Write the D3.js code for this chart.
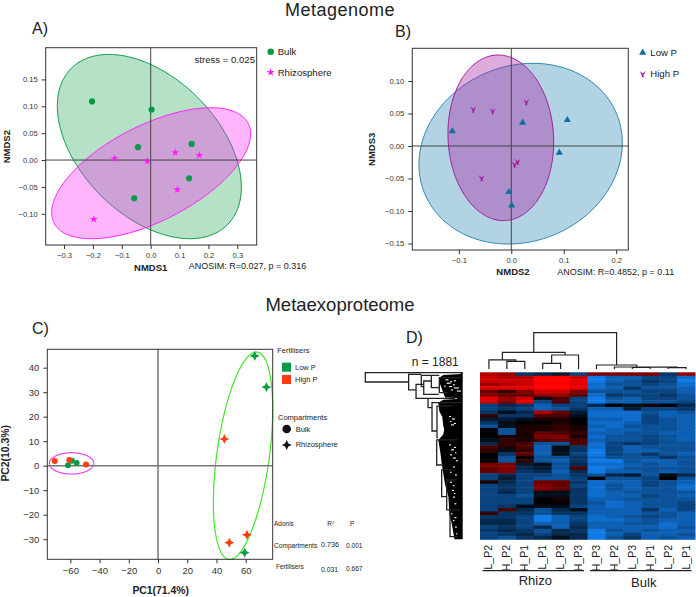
<!DOCTYPE html>
<html>
<head>
<meta charset="utf-8">
<script src="https://cdn.jsdelivr.net/npm/d3@7"></script>
<style>
  html, body { margin: 0; background: #fff; }
  svg { display: block; }
  text { font-family: "Liberation Sans", Arial, sans-serif; fill: #222; }
</style>
</head>
<body>
<svg id="fig" width="696" height="597"></svg>
<script>
// panel A - NMDS1 / NMDS2
const bulkA = [[-0.203, 0.109], [0.003, 0.094], [-0.044, 0.024], [0.142, 0.030], [0.133, -0.034], [-0.057, -0.071]];
const rhizoA = [[-0.125, 0.003], [-0.012, -0.002], [0.085, 0.014], [0.168, 0.009], [0.092, -0.055], [-0.197, -0.110]];
// ellipses are [cx, cy, rx, ry, correlation]
const bulkEllipseA = [-0.0047, 0.0251, 0.3185, 0.1714, -0.44];
const rhizoEllipseA = [0.0016, -0.0245, 0.3444, 0.1218, 0.6];
const xTicksA = [-0.3, -0.2, -0.1, 0, 0.1, 0.2, 0.3];
const yTicksA = [-0.10, -0.05, 0, 0.05, 0.10, 0.15];

// panel B - NMDS2 / NMDS3
const lowB = [[-0.1125, 0.0226], [0.0216, 0.0359], [0.1068, 0.04], [0.0915, -0.0103], [-0.0045, -0.0708], [0.0006, -0.0913]];
const highB = [[-0.0725, 0.0564], [-0.0356, 0.0538], [0.0286, 0.0677], [0.0121, -0.0241], [0.0064, -0.0282], [-0.0566, -0.0492]];
const lowEllipseB = [0.0178, -0.0118, 0.1939, 0.139, 0.12];
const highEllipseB = [-0.02, 0.0126, 0.1008, 0.1274, -0.05];
const xTicksB = [-0.1, 0, 0.1, 0.2];
const yTicksB = [-0.15, -0.10, -0.05, 0, 0.05, 0.10];

// panel C - PCA
const bulkLowC = [[-61.6, 0.14], [-59, 2], [-55.7, 1.1]];
const bulkHighC = [[-70.7, 1.9], [-60.7, 2.3], [-49.3, 0.5]];
const rhizoLowC = [[66.2, 44.8], [74.2, 32.1], [59.3, -35.5]];
const rhizoHighC = [[45.4, 10.9], [60.9, -28.2], [48.8, -31.4]];
const rhizoEllipseC = [58.2, 4.08, 20.3, 42.3, 0.45];
const bulkEllipseC = [-59.2, 0.95, 15.2, 4.35, 0];
const xTicksC = [-60, -40, -20, 0, 20, 40, 60];
const yTicksC = [-30, -20, -10, 0, 10, 20, 30, 40];

// panel D - heatmap, values are -10 (blue) .. 10 (red)
const heatCols = ['L_P2', 'H_P2', 'H_P1', 'L_P1', 'L_P3', 'H_P3', 'H_P3', 'H_P2', 'L_P3', 'H_P1', 'L_P2', 'L_P1'];
const heatRows = [
  [7, 6, -4, -3, -2, -5, 5, 5, 5, 5, -4, 6],
  [8, 7, 7, 10, 10, 8, -9, -7, -7, -5, -5, -8],
  [8, 8, 8, 10, 10, 9, -9, -7, -6, -4, -5, -9],
  [6, 7, 8, 10, 10, 9, -8, -6, -6, -5, -6, -8],
  [9, 9, 9, 10, 10, 9, -8, -7, -4, -6, -6, -7],
  [4, 2, 5, 8, 8, 5, -6, -6, -6, -5, -5, -7],
  [5, 4, 4, 6, 6, 4, -8, -4, -5, -5, -4, -6],
  [9, 6, 8, -1, 3, -5, -9, -6, -7, -5, -5, -6],
  [8, 5, 9, -5, 3, -5, -9, -7, -7, -6, -6, -5],
  [-5, -3, -4, -7, -5, -5, -3, 0, -1, 1, 0, -3],
  [-5, -4, -5, -7, -6, -4, -7, -7, -2, -5, -5, -4],
  [-4, -1, -3, 7, 4, -2, -8, -8, -8, -6, -7, -6],
  [2, -4, -4, 3, 3, -1, -8, -8, -8, -5, -7, -7],
  [-2, -2, -1, 1, 1, 0, -7, -7, -8, -5, -6, -7],
  [-4, -1, 0, 0, 1, 0, -8, -8, -7, -5, -6, -7],
  [-6, -1, 1, 1, 2, 1, -7, -8, -6, -6, -6, -7],
  [0, -6, 1, 1, 2, 1, -8, -7, -7, -6, -6, -7],
  [0, -6, 1, 4, 3, 2, -7, -7, -6, -6, -7, -7],
  [0, 1, 1, 5, 5, 1, -8, -6, -6, -5, -6, -7],
  [-1, 2, 1, 3, 4, 3, -7, -6, -6, -5, -6, -7],
  [-3, 2, 3, -6, -6, 3, -8, -5, -4, -5, -6, -6],
  [3, 1, 3, -7, -1, -4, -8, -5, -7, -6, -6, -6],
  [2, -1, 2, -7, -1, -4, -9, -5, -7, -7, -6, -6],
  [0, -4, 4, -7, -1, -5, -9, -5, -6, -4, -6, -7],
  [0, -6, 0, -6, -6, -4, -8, -6, -6, -6, -4, -6],
  [0, -6, 2, -6, -7, -4, -9, -9, -6, -7, -7, -6],
  [5, 5, -2, -1, -6, -3, -8, -8, -7, -6, -7, -6],
  [4, 5, -3, -2, -6, 3, -9, -8, -6, -6, -6, -6],
  [4, 5, -4, -3, -7, -3, -9, -7, -7, -6, -7, -6],
  [-5, -3, -5, -5, -6, -4, -6, -3, -2, -6, -1, -3],
  [-5, -2, -5, -6, -6, -5, 0, -6, -6, -5, 0, -6],
  [1, -3, -5, 4, 4, -4, -8, -7, -7, -5, -6, -7],
  [-5, -4, -5, 5, 4, -5, -8, -6, -7, -5, -6, -8],
  [-5, -4, -5, 5, 4, -4, -8, -6, -7, -6, -6, -8],
  [-5, -3, -5, -1, -1, -4, -8, -7, -6, -6, -6, -6],
  [-5, -5, -6, -1, -1, -4, -8, -7, -7, -5, -6, -7],
  [-5, -5, -5, 0, 1, -4, -7, -7, -6, -6, -6, -6],
  [-5, -5, -5, 0, 0, -4, -6, -8, -7, -6, -6, -5],
  [-5, -4, -1, -1, -1, -5, -7, -8, -7, -6, -6, -5],
  [-5, 3, -3, -6, -3, -1, -7, -7, -7, -4, -7, -5],
  [2, -4, -4, -6, -4, -4, -7, -7, -7, -6, -6, -7],
  [-4, -4, -5, -9, -7, -5, -8, -7, -6, -5, -6, -7],
  [-3, -3, -5, -9, -7, -5, -8, -8, -7, -6, -7, -7],
  [-3, -3, -5, -7, -7, -4, -7, -7, -6, -6, -8, -7],
  [-5, -4, -5, -3, -7, -3, -7, -7, -7, -7, -8, -6],
  [-4, -3, -4, -6, -3, -4, -9, -6, -7, -6, -7, -7],
  [-5, -4, -3, -5, -3, -3, -9, -7, -5, -7, -7, -6],
  [-5, -6, -4, -3, -1, -3, -9, -6, -4, -7, -6, -7]
];
// column tree: {h: merge height, c: children}, numbers are column indexes
const colTree = { h: 1, c: [
  { h: 0.46, c: [
    { h: 0.25, c: [0, { h: 0.21, c: [1, 2] }] },
    { h: 0.385, c: [{ h: 0.156, c: [3, 4] }, 5] }
  ] },
  { h: 0.11, c: [6, { h: 0.055, c: [7, { h: 0.05, c: [{ h: 0.045, c: [8, 9] }, { h: 0.04, c: [10, 11] }] }] }] }
] };
// protein tree, n = 1881: [depth, pos0, pos1, child depth 0, child depth 1]
const rowBranches = [
  [1, 4, 109, 0, 0.555], [0.555, 23, 199, 0.425, 0.479], [0.479, 135, 293, 0.4, 0.356],
  [0.425, 34, 162, 0.322, 0.4], [0.4, 98, 248, 0.322, 0.247], [0.322, 34, 173, 0.24, 0.24],
  [0.24, 60, 229, 0, 0.144], [0.356, 293, 398, 0.076, 0.315], [0.315, 342, 661, 0, 0.264],
  [0.264, 380, 736, 0.1, 0.254], [0.267, 762, 1044, 0.05, 0.2], [0.216, 1100, 1400, 0.1, 0.164],
  [0.164, 1213, 1550, 0.06, 0.13], [0.13, 1550, 1850, 0.03, 0.05]
];
// left edge of the solid black part of that tree: [pos, depth]
const rowMass = [[0, 0.02], [20, 0.02], [30, 0.2], [60, 0.24], [110, 0.24], [229, 0.2], [285, 0.18], [290, 0.06], [300, 0.06], [310, 0.2], [342, 0.25],
  [440, 0.24], [500, 0.21], [600, 0.2], [650, 0.19], [700, 0.2], [762, 0.25], [900, 0.23], [1025, 0.216], [1138, 0.2], [1270, 0.18],
  [1400, 0.147], [1588, 0.137], [1720, 0.11], [1850, 0.089], [1881, 0.085]];
// white flecks in the black part: [pos, depth, length]
const rowGaps = [[79, 0.178, 3], [100, 0.13, 2], [117, 0.165, 4], [135, 0.1, 2], [154, 0.14, 3], [170, 0.09, 5], [192, 0.12, 2], [205, 0.06, 4], [150, 0.19, 1.5], [90, 0.09, 2],
  [492, 0.14, 2], [520, 0.11, 3], [548, 0.13, 1.5], [570, 0.09, 2], [586, 0.12, 3], [811, 0.14, 2], [840, 0.09, 2], [867, 0.12, 3], [900, 0.08, 1.5], [924, 0.13, 2], [960, 0.1, 3], [990, 0.07, 2],
  [1060, 0.1, 2], [1120, 0.13, 1.5], [1150, 0.08, 2], [1232, 0.13, 2], [1270, 0.1, 1.5], [1325, 0.11, 2], [1360, 0.09, 1.5], [1400, 0.1, 2], [1475, 0.085, 2], [1588, 0.12, 1.5], [1630, 0.085, 2],
  [1663, 0.1, 1.5], [1738, 0.08, 2], [1813, 0.07, 1.5]];

const green = '#0a9a47', magenta = '#ff1ff5', blue = '#0f6f9f', purple = '#a616a0', orange = '#ff3c10';

const svg = d3.select('#fig');

function label(txt, x, y, size, opts = {}) {
  let t = svg.append('text')
    .attr('x', x).attr('y', y)
    .attr('font-size', size)
    .attr('font-weight', opts.bold ? 'bold' : null)
    .attr('text-anchor', opts.anchor || 'start')
    .text(txt);
  if (opts.rotate) t.attr('transform', `rotate(-90 ${x} ${y})`);
  return t;
}

// 4 pointed star and the notched "v" are not in d3
const star4 = { draw(ctx, size) {
  const r = Math.sqrt(size), q = r * 0.32;
  ctx.moveTo(0, -r); ctx.lineTo(q, -q); ctx.lineTo(r, 0); ctx.lineTo(q, q);
  ctx.lineTo(0, r); ctx.lineTo(-q, q); ctx.lineTo(-r, 0); ctx.lineTo(-q, -q); ctx.closePath();
} };
const notchV = { draw(ctx, size) {
  const r = Math.sqrt(size);
  ctx.moveTo(-r, -r); ctx.lineTo(0, -r * 0.15); ctx.lineTo(r, -r); ctx.lineTo(r * 0.3, r * 0.35);
  ctx.lineTo(r * 0.3, r * 1.1); ctx.lineTo(-r * 0.3, r * 1.1); ctx.lineTo(-r * 0.3, r * 0.35); ctx.closePath();
} };

function points(g, x, y, data, type, size, color) {
  g.selectAll(null).data(data).join('path')
    .attr('d', d3.symbol(type, size))
    .attr('fill', color)
    .attr('transform', d => `translate(${x(d[0])},${y(d[1])})`);
}

function ellipse(g, x, y, e, stroke, fill, opacity, width) {
  const [cx, cy, rx, ry, rho] = e;
  const phi = Math.acos(rho);
  const line = d3.line()
    .x(t => x(cx + rx * Math.cos(t)))
    .y(t => y(cy + ry * Math.cos(t - phi)))
    .curve(d3.curveLinearClosed);
  g.append('path')
    .attr('d', line(d3.range(0, 2 * Math.PI, 0.02)))
    .attr('fill', fill).attr('fill-opacity', opacity)
    .attr('stroke', stroke).attr('stroke-width', width);
}

function panel(o) {
  const x = d3.scaleLinear().domain(o.xDomain).range(o.xRange);
  const y = d3.scaleLinear().domain(o.yDomain).range(o.yRange);
  const g = svg.append('g');
  const fmtX = d3.format(o.xFormat), fmtY = d3.format(o.yFormat);
  o.ellipses(g, x, y);
  // zero lines
  g.append('line').attr('x1', x(0)).attr('x2', x(0)).attr('y1', o.yRange[0]).attr('y2', o.yRange[1])
    .attr('stroke', o.zeroColor).attr('stroke-width', o.zeroWidth);
  g.append('line').attr('x1', o.xRange[0]).attr('x2', o.xRange[1]).attr('y1', y(0)).attr('y2', y(0))
    .attr('stroke', o.zeroColor).attr('stroke-width', o.zeroWidth);
  g.append('rect').attr('x', o.xRange[0]).attr('y', o.yRange[1])
    .attr('width', o.xRange[1] - o.xRange[0]).attr('height', o.yRange[0] - o.yRange[1])
    .attr('fill', 'none').attr('stroke', '#333').attr('stroke-width', 1);
  const ax = g.append('g').attr('transform', `translate(0,${o.yRange[0]})`)
    .call(d3.axisBottom(x).tickValues(o.xTicks).tickFormat(fmtX).tickSize(4).tickPadding(o.pad));
  const ay = g.append('g').attr('transform', `translate(${o.xRange[0]},0)`)
    .call(d3.axisLeft(y).tickValues(o.yTicks).tickFormat(fmtY).tickSize(4).tickPadding(o.pad));
  [ax, ay].forEach(a => {
    a.select('.domain').remove();
    a.selectAll('text').attr('font-size', o.tickFont).attr('font-family', '"Liberation Sans", Arial, sans-serif').style('fill', '#333');
    a.selectAll('line').attr('stroke', '#333');
  });
  o.marks(g, x, y);
}

// titles
label('Metagenome', 340, 16.3, 18, { anchor: 'middle' }).attr('letter-spacing', 0.5);
label('Metaexoproteome', 340, 310.5, 18.5, { anchor: 'middle' });
label('A)', 32, 34, 16);
label('B)', 395, 36.5, 16);
label('C)', 32, 334, 16);
label('D)', 406, 342.5, 16);

// A
panel({
  xDomain: [-0.3635, 0.367], xRange: [45.7, 256.7],
  yDomain: [-0.158, 0.209], yRange: [245, 47.7],
  xTicks: xTicksA, yTicks: yTicksA, xFormat: '.1f', yFormat: '.2f',
  tickFont: 7.6, pad: 4, zeroColor: '#444', zeroWidth: 1,
  ellipses(g, x, y) {
    ellipse(g, x, y, bulkEllipseA, green, green, 0.3, 1);
    ellipse(g, x, y, rhizoEllipseA, magenta, magenta, 0.33, 1);
  },
  marks(g, x, y) {
    points(g, x, y, bulkA, d3.symbolCircle, 30, green);
    points(g, x, y, rhizoA, d3.symbolStar, 20, magenta);
  }
});
label('stress = 0.025', 255, 63, 9.6, { anchor: 'end' });
label('ANOSIM: R=0.027, p = 0.316', 188.7, 268.7, 9);
label('NMDS1', 150.7, 270.7, 9.5, { bold: true, anchor: 'middle' });
label('NMDS2', 10, 146.7, 9.5, { bold: true, anchor: 'middle', rotate: true });
svg.append('path').attr('d', d3.symbol(d3.symbolCircle, 34)).attr('fill', green).attr('transform', 'translate(270.7,51.7)');
label('Bulk', 277.7, 55, 9.6);
svg.append('path').attr('d', d3.symbol(d3.symbolStar, 20)).attr('fill', magenta).attr('transform', 'translate(270.7,72.3)');
label('Rhizosphere', 277.7, 76, 9.6);

// B
panel({
  xDomain: [-0.1888, 0.2231], xRange: [412.3, 628.3],
  yDomain: [-0.16, 0.1503], yRange: [250, 48.3],
  xTicks: xTicksB, yTicks: yTicksB, xFormat: '.1f', yFormat: '.2f',
  tickFont: 7.6, pad: 4, zeroColor: '#444', zeroWidth: 1,
  ellipses(g, x, y) {
    ellipse(g, x, y, lowEllipseB, '#2a86b0', '#1478aa', 0.33, 1);
    ellipse(g, x, y, highEllipseB, purple, purple, 0.36, 1);
  },
  marks(g, x, y) {
    points(g, x, y, lowB, d3.symbolTriangle, 22, blue);
    points(g, x, y, highB, notchV, 9, purple);
  }
});
label('ANOSIM: R=0.4852, p = 0.11', 557.3, 274.7, 9);
label('NMDS2', 513, 275.3, 9.5, { bold: true, anchor: 'middle' });
label('NMDS3', 375.3, 149.3, 9.5, { bold: true, anchor: 'middle', rotate: true });
svg.append('path').attr('d', d3.symbol(d3.symbolTriangle, 22)).attr('fill', blue).attr('transform', 'translate(642.7,52.7)');
label('Low P', 650.3, 56, 9.6);
svg.append('path').attr('d', d3.symbol(notchV, 9)).attr('fill', purple).attr('transform', 'translate(642.7,74)');
label('High P', 650.3, 77.3, 9.6);

// C
panel({
  xDomain: [-75.8, 78.5], xRange: [47.3, 272.7],
  yDomain: [-38.2, 47.5], yRange: [559.3, 349.3],
  xTicks: xTicksC, yTicks: yTicksC, xFormat: 'd', yFormat: 'd',
  tickFont: 9.5, pad: 4, zeroColor: '#777', zeroWidth: 1.5,
  ellipses(g, x, y) {
    ellipse(g, x, y, rhizoEllipseC, '#3fea22', 'none', 0, 1.2);
    ellipse(g, x, y, bulkEllipseC, '#ee44ee', 'none', 0, 1.2);
  },
  marks(g, x, y) {
    points(g, x, y, bulkLowC, d3.symbolCircle, 28, green);
    points(g, x, y, bulkHighC, d3.symbolCircle, 28, orange);
    points(g, x, y, rhizoLowC, star4, 25, green);
    points(g, x, y, rhizoHighC, star4, 25, orange);
  }
});
label('PC1(71.4%)', 160.7, 594, 10.4, { bold: true, anchor: 'middle' });
label('PC2(10.3%)', 9, 453.3, 10.4, { bold: true, anchor: 'middle', rotate: true });
label('Fertilisers', 277.3, 352.7, 7.4);
svg.append('rect').attr('x', 282).attr('y', 362.7).attr('width', 9).attr('height', 9).attr('fill', green);
svg.append('rect').attr('x', 282).attr('y', 375).attr('width', 9).attr('height', 9).attr('fill', orange);
label('Low P', 295, 370, 7.5);
label('High P', 295, 382, 7.5);
label('Compartments', 278, 420, 7.5);
svg.append('path').attr('d', d3.symbol(d3.symbolCircle, 58)).attr('fill', '#111').attr('transform', 'translate(286.7,429)');
label('Bulk', 295.7, 432.3, 7.5);
svg.append('path').attr('d', d3.symbol(star4, 25)).attr('fill', '#111').attr('transform', 'translate(286.7,445)');
label('Rhizosphere', 295.7, 447.3, 7.5);
label('Adonis', 274, 526, 6.5);
label('R', 327.3, 526, 6.5).append('tspan').attr('dy', -2.5).attr('font-size', 4).text('2');
label('P', 350, 526, 6.5);
label('Compartments', 274, 547.7, 6.6);
label('0.736', 321, 547, 7.2);
label('0.001', 346, 548, 6.6);
label('Fertilisers', 276, 568.7, 6.4);
label('0.031', 321, 571.5, 6.8);
label('0.667', 346, 571, 6.6);

// D heatmap
const heatX = d3.scaleBand().domain(d3.range(heatCols.length)).range([480, 695]);
const heatY = d3.scaleBand().domain(d3.range(heatRows.length)).range([372.3, 539.3]);
const heatColor = d3.scaleLinear().domain([-10, 0, 10]).range(['#1288ff', '#000000', '#ff0000']);
svg.append('g').selectAll('g').data(heatRows).join('g')
  .attr('transform', (d, i) => `translate(0,${heatY(i)})`)
  .selectAll('rect').data(d => d).join('rect')
  .attr('x', (d, i) => heatX(i))
  .attr('width', heatX.bandwidth() + 0.5)
  .attr('height', heatY.bandwidth() + 0.5)
  .attr('fill', d => heatColor(d));

svg.append('g').selectAll('text').data(heatCols).join('text')
  .attr('font-size', 10.5)
  .attr('text-anchor', 'end')
  .attr('transform', (d, i) => `translate(${heatX(i) + heatX.bandwidth() / 2 + 3.5},545) rotate(-90)`)
  .text(d => d);

label('n = 1881', 411.7, 365.7, 12);

// column dendrogram
const topY = d3.scaleLinear().domain([0, 1]).range([369, 332.7]);
const root = d3.hierarchy(colTree, d => d.c);
root.eachAfter(n => {
  if (n.children) {
    n.px = d3.mean(n.children, c => c.px);
    n.h = n.data.h;
  } else {
    n.px = heatX(n.data) + heatX.bandwidth() / 2;
    n.h = 0;
  }
});
let colLinks = d3.path();
root.descendants().filter(n => n.children).forEach(n => {
  n.children.forEach(c => {
    colLinks.moveTo(c.px, topY(c.h));
    colLinks.lineTo(c.px, topY(n.h));
    colLinks.lineTo(n.px, topY(n.h));
  });
});
svg.append('path').attr('d', colLinks.toString()).attr('fill', 'none').attr('stroke', '#222').attr('stroke-width', 1.2);

// row dendrogram
const depthX = d3.scaleLinear().domain([0, 1]).range([462.7, 365.3]);
const posY = d3.scaleLinear().domain([0, 1881]).range([372.3, 539.3]);
svg.append('path')
  .attr('d', d3.area().x0(d => depthX(d[1])).x1(depthX(0)).y(d => posY(d[0])).curve(d3.curveLinear)(rowMass))
  .attr('fill', '#000');
let rowLinks = d3.path();
rowBranches.forEach(([d, p0, p1, d0, d1]) => {
  rowLinks.moveTo(depthX(d0), posY(p0));
  rowLinks.lineTo(depthX(d), posY(p0));
  rowLinks.lineTo(depthX(d), posY(p1));
  rowLinks.lineTo(depthX(d1), posY(p1));
});
svg.append('path').attr('d', rowLinks.toString()).attr('fill', 'none').attr('stroke', '#222').attr('stroke-width', 1.3);
svg.append('g').selectAll('rect').data(rowGaps).join('rect')
  .attr('x', d => depthX(d[1]))
  .attr('y', d => posY(d[0]))
  .attr('width', d => d[2]).attr('height', 1.1)
  .attr('fill', '#fff');

// group brackets under the heatmap
const groups = [['Rhizo', 0, 5, 585, 2], ['Bulk', 6, 11, 587, 3]];
groups.forEach(([name, a, b, base, shift]) => {
  const x0 = heatX(a) + 2.5, x1 = heatX(b) + heatX.bandwidth() - 3.5;
  svg.append('line').attr('x1', x0).attr('x2', x1).attr('y1', 570.7).attr('y2', 570.7)
    .attr('stroke', '#222').attr('stroke-width', 1.2);
  label(name, (x0 + x1) / 2 + shift, base, 13, { anchor: 'middle' });
});
</script>
</body>
</html>
